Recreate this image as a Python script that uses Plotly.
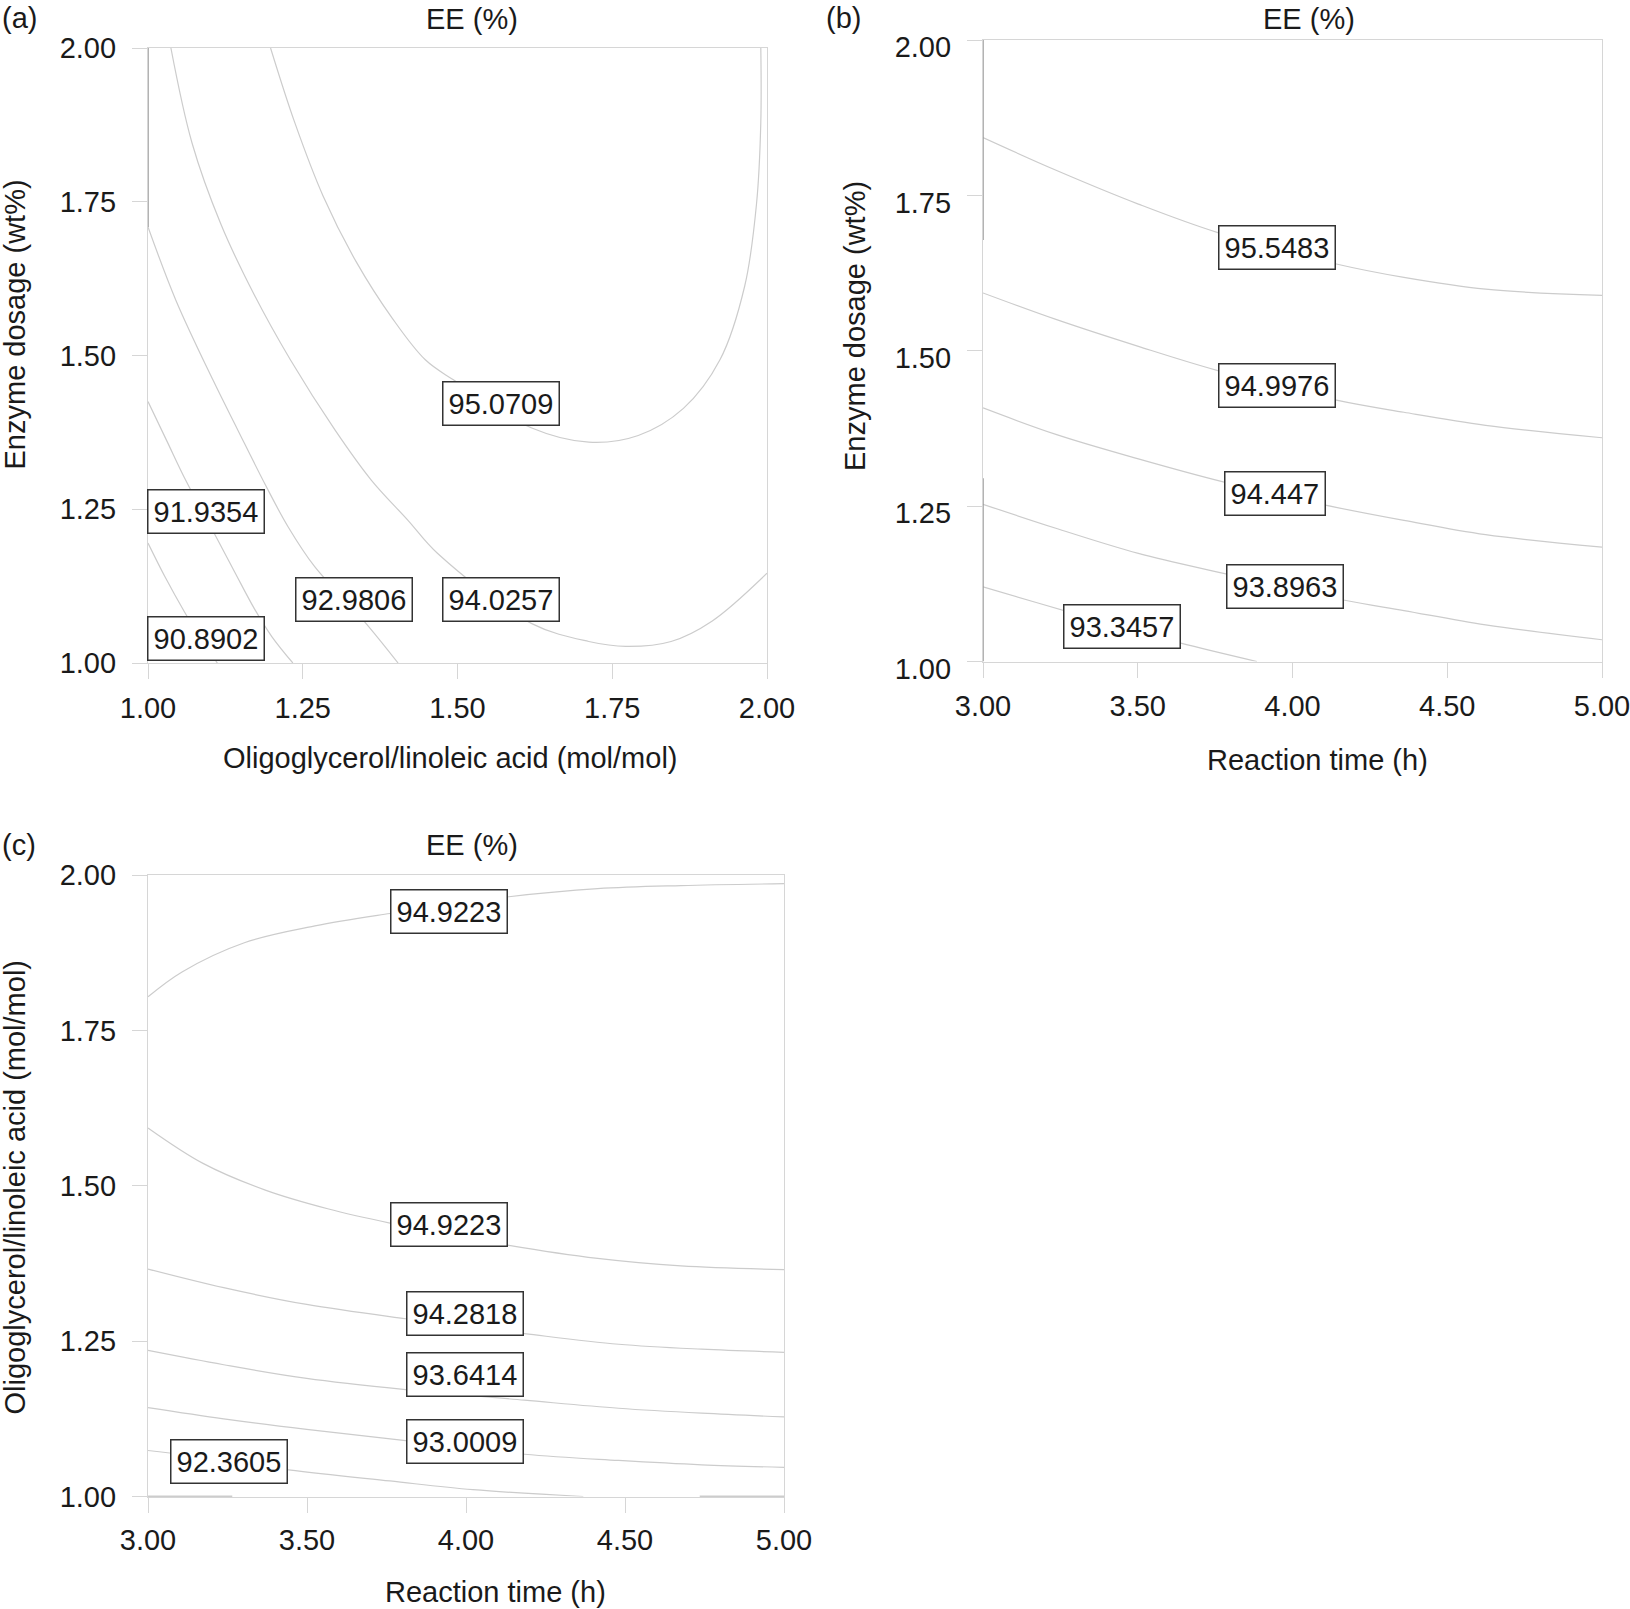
import plotly.graph_objects as go

W, H = 1630, 1609
FONT = "Liberation Sans, Arial, sans-serif"

# ---- panel (a): enzyme dosage vs oligoglycerol/linoleic acid ----
a_levels = ["90.8902", "91.9354", "92.9806", "94.0257", "95.0709"]
a_lines_x = [
    [1.0, 1.027, 1.059, 1.085, 1.112],
    [1.0, 1.030, 1.062, 1.108, 1.140, 1.172, 1.200, 1.234],
    [1.0, 1.045, 1.105, 1.145, 1.190, 1.226, 1.269, 1.350, 1.404],
    [1.037, 1.071, 1.118, 1.171, 1.230, 1.302, 1.361, 1.420, 1.468, 1.620, 1.712, 1.772, 1.845, 1.911, 2.0],
    [1.198, 1.237, 1.283, 1.336, 1.395, 1.448, 1.494, 1.620, 1.712, 1.792, 1.865, 1.924, 1.964, 1.983, 1.990, 1.990],
]
a_lines_y = [
    [1.195, 1.141, 1.083, 1.040, 1.0],
    [1.425, 1.362, 1.295, 1.209, 1.148, 1.088, 1.043, 1.0],
    [1.709, 1.590, 1.460, 1.379, 1.289, 1.222, 1.157, 1.067, 1.0],
    [2.0, 1.846, 1.713, 1.600, 1.493, 1.379, 1.297, 1.232, 1.178, 1.064, 1.035, 1.027, 1.035, 1.068, 1.146],
    [2.0, 1.879, 1.759, 1.653, 1.560, 1.493, 1.460, 1.382, 1.359, 1.370, 1.414, 1.493, 1.613, 1.746, 1.879, 2.0],
]
a_label_x = [1.094, 1.094, 1.333, 1.571, 1.571]
a_label_y = [1.040, 1.247, 1.104, 1.104, 1.422]
a_edge_x = [[1.0, 1.0]]
a_edge_y = [[2.0, 1.709]]

# ---- panel (b): enzyme dosage vs reaction time ----
b_levels = ["93.3457", "93.8963", "94.447", "94.9976", "95.5483"]
b_lines_x = [
    [3.0, 3.172, 3.40, 3.636, 3.885],
    [3.0, 3.238, 3.502, 3.785, 4.164, 4.360, 4.624, 5.0],
    [3.0, 3.238, 3.502, 3.776, 4.102, 4.360, 4.624, 5.0],
    [3.0, 3.238, 3.502, 3.759, 4.138, 4.360, 4.624, 5.0],
    [3.0, 3.238, 3.502, 3.759, 4.138, 4.360, 4.624, 5.0],
]
b_lines_y = [
    [1.120, 1.095, 1.062, 1.030, 1.0],
    [1.253, 1.214, 1.174, 1.141, 1.099, 1.082, 1.059, 1.035],
    [1.408, 1.365, 1.326, 1.289, 1.252, 1.227, 1.204, 1.184],
    [1.593, 1.550, 1.507, 1.468, 1.421, 1.401, 1.380, 1.360],
    [1.843, 1.790, 1.736, 1.690, 1.640, 1.618, 1.599, 1.589],
]
b_label_x = [3.450, 3.977, 3.942, 3.950, 3.950]
b_label_y = [1.057, 1.120, 1.270, 1.444, 1.666]
b_edge_x = [[3.0, 3.0], [3.0, 3.0]]
b_edge_y = [[2.0, 1.678], [1.295, 1.0]]

# ---- panel (c): oligoglycerol/linoleic acid vs reaction time ----
c_levels = ["92.3605", "93.0009", "93.6414", "94.2818", "94.9223", "94.9223"]
c_lines_x = [
    [3.0, 3.068, 3.442, 3.761, 4.022, 4.369],
    [3.0, 3.238, 3.499, 3.810, 4.184, 4.480, 4.741, 5.0],
    [3.0, 3.238, 3.499, 3.810, 4.184, 4.480, 4.741, 5.0],
    [3.0, 3.238, 3.499, 3.810, 4.184, 4.480, 4.741, 5.0],
    [3.0, 3.173, 3.369, 3.565, 3.761, 4.135, 4.414, 4.676, 5.0],
    [3.0, 3.107, 3.303, 3.525, 3.761, 4.135, 4.414, 4.676, 5.0],
]
c_lines_y = [
    [1.074, 1.070, 1.043, 1.025, 1.011, 1.0],
    [1.143, 1.125, 1.108, 1.090, 1.068, 1.058, 1.051, 1.047],
    [1.235, 1.212, 1.190, 1.172, 1.155, 1.142, 1.134, 1.128],
    [1.366, 1.336, 1.309, 1.286, 1.262, 1.245, 1.237, 1.232],
    [1.593, 1.536, 1.493, 1.463, 1.440, 1.404, 1.383, 1.371, 1.365],
    [1.804, 1.844, 1.891, 1.918, 1.938, 1.965, 1.978, 1.983, 1.986],
]
c_label_x = [3.254, 3.996, 3.996, 3.996, 3.948, 3.948]
c_label_y = [1.057, 1.089, 1.196, 1.295, 1.437, 1.941]
c_edge_x = [[3.0, 3.265], [4.735, 5.0]]
c_edge_y = [[1.0, 1.0], [1.0, 1.0]]

ticks_ratio = [1.00, 1.25, 1.50, 1.75, 2.00]
ticks_time = [3.00, 3.50, 4.00, 4.50, 5.00]

fig = go.Figure()


def px_x(p):
    return p / W


def px_y(p):
    return 1 - p / H


def add_panel(n, lines_x, lines_y, levels, lab_x, lab_y, edge_x, edge_y):
    xa = "x" if n == 1 else f"x{n}"
    ya = "y" if n == 1 else f"y{n}"
    for xs, ys in zip(lines_x, lines_y):
        fig.add_trace(go.Scatter(x=xs, y=ys, mode="lines", xaxis=xa, yaxis=ya,
                                 line=dict(color="#cccccc", width=1.2, shape="spline"),
                                 showlegend=False, hoverinfo="skip"))
    for xs, ys in zip(edge_x, edge_y):
        fig.add_trace(go.Scatter(x=xs, y=ys, mode="lines", xaxis=xa, yaxis=ya,
                                 line=dict(color="#9a9a9a", width=1.5),
                                 showlegend=False, hoverinfo="skip", cliponaxis=False))
    for t, lx, ly in zip(levels, lab_x, lab_y):
        fig.add_annotation(x=lx, y=ly, xref=xa, yref=ya, text=t, showarrow=False,
                           font=dict(family=FONT, size=29, color="#1a1a1a"),
                           bgcolor="white", bordercolor="#333333", borderwidth=1.5,
                           borderpad=5)


add_panel(1, a_lines_x, a_lines_y, a_levels, a_label_x, a_label_y, a_edge_x, a_edge_y)
add_panel(2, b_lines_x, b_lines_y, b_levels, b_label_x, b_label_y, b_edge_x, b_edge_y)
add_panel(3, c_lines_x, c_lines_y, c_levels, c_label_x, c_label_y, c_edge_x, c_edge_y)

axis_style = dict(showline=True, mirror=True, linecolor="#d6d6d6", linewidth=1.2,
                  ticks="outside", ticklen=15, tickcolor="#d6d6d6", tickwidth=1.2,
                  showgrid=False, zeroline=False, fixedrange=True, automargin=False,
                  ticklabeloverflow="allow",
                  tickfont=dict(family=FONT, size=29, color="#1a1a1a"))


def ax(vals, rng, domain, anchor, **kw):
    d = dict(axis_style)
    d.update(range=rng, domain=domain, anchor=anchor, tickvals=vals,
             ticktext=[f"{v:.2f}" for v in vals])
    d.update(kw)
    return d


fig.update_layout(
    template="none",
    width=W, height=H,
    margin=dict(l=0, r=0, t=0, b=0, pad=0),
    paper_bgcolor="white", plot_bgcolor="white",
    font=dict(family=FONT, size=29, color="#1a1a1a"),
    xaxis=ax(ticks_ratio, [1, 2], [px_x(148), px_x(767)], "y", ticklabelstandoff=4),
    yaxis=ax(ticks_ratio, [1, 2], [px_y(663), px_y(48)], "x", ticklabelstandoff=10),
    xaxis2=ax(ticks_time, [3, 5], [px_x(983), px_x(1602)], "y2", ticklabelstandoff=4),
    yaxis2=ax(ticks_ratio, [1, 2], [px_y(661.5), px_y(40)], "x2", ticklabelstandoff=10,
              ticklabelshift=7),
    xaxis3=ax(ticks_time, [3, 5], [px_x(148), px_x(784)], "y3", ticklabelstandoff=3),
    yaxis3=ax(ticks_ratio, [1, 2], [px_y(1496.5), px_y(875)], "x3", ticklabelstandoff=10),
)

# panel letters, panel titles and axis titles
texts = [
    ("(a)", 0, 18, "left", 0),
    ("(b)", 843, 18, "center", 0),
    ("(c)", 0, 845, "left", 0),
    ("EE (%)", 471.6, 19.4, "center", 0),
    ("EE (%)", 1308.8, 19.4, "center", 0),
    ("EE (%)", 471.6, 844.8, "center", 0),
    ("Oligoglycerol/linoleic acid (mol/mol)", 449.7, 757.8, "center", 0),
    ("Reaction time (h)", 1317.8, 759.9, "center", 0),
    ("Reaction time (h)", 495.5, 1592, "center", 0),
    ("Enzyme dosage (wt%)", 14.5, 325, "center", -90),
    ("Enzyme dosage (wt%)", 855, 326, "center", -90),
    ("Oligoglycerol/linoleic acid (mol/mol)", 14.5, 1188, "center", -90),
]
for t, x, y, xa, rot in texts:
    fig.add_annotation(x=px_x(x), y=px_y(y), xref="paper", yref="paper", text=t,
                       showarrow=False, xanchor=xa, yanchor="middle", textangle=rot,
                       font=dict(family=FONT, size=29, color="#1a1a1a"))

fig.write_html("out.html", config={"displayModeBar": False},
               post_script="document.body.style.margin='0px';document.body.style.overflow='hidden';")
